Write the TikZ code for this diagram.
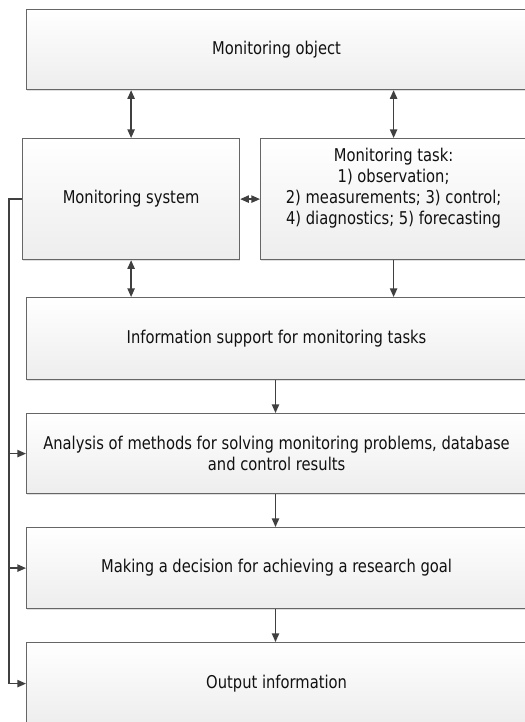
\documentclass[tikz,border=0pt]{standalone}
\usepackage{fontspec}
\setmainfont{DejaVu Sans Condensed}[FakeStretch=0.93]
\usetikzlibrary{arrows.meta,shadows,calc}
\definecolor{linec}{HTML}{404040}
\definecolor{borderc}{HTML}{666666}
\definecolor{textc}{HTML}{111111}
\begin{document}
\begin{tikzpicture}[x=0.75pt,y=-0.75pt,
  box/.style={draw=borderc, line width=0.9pt, top color=white, bottom color=gray!14,
    anchor=north west, inner sep=0pt, align=center, text=textc, font=\fontsize{13.2}{15.8}\selectfont,
    drop shadow={shadow xshift=0pt, shadow yshift=-1pt, opacity=0.25}},
  arr/.style={draw=linec, line width=1pt, -{Triangle[length=6.5pt,width=5.5pt]}},
  darr/.style={draw=linec, line width=1pt, {Triangle[length=6.5pt,width=5.5pt]}-{Triangle[length=6.5pt,width=5.5pt]}}]
\useasboundingbox (0,0) rectangle (525,722);
\clip (0,0) rectangle (525,722);
\fill[white] (0,0) rectangle (525,722);
\node[box, minimum width=500*0.75pt, minimum height=80*0.75pt] (obj) at (26,9) {Monitoring object};
\node[box, minimum width=217*0.75pt, minimum height=121*0.75pt] (sys) at (22,138) {Monitoring system};
\node[box, minimum width=266*0.75pt, minimum height=121*0.75pt] (task) at (260,138) {Monitoring task:\\1) observation;\\2) measurements; 3) control;\\4) diagnostics; 5) forecasting\\[3pt]};
\node[box, minimum width=500*0.75pt, minimum height=82*0.75pt] (info) at (26,297) {Information support for monitoring tasks};
\node[box, minimum width=500*0.75pt, minimum height=80*0.75pt] (ana) at (26,413) {Analysis of methods for solving monitoring problems, database\\and control results};
\node[box, minimum width=500*0.75pt, minimum height=81*0.75pt] (dec) at (26,527) {Making a decision for achieving a research goal};
\node[box, minimum width=500*0.75pt, minimum height=82*0.75pt] (out) at (26,642) {Output information};
\coordinate (L) at (9,0);
\coordinate (X) at (275.5,0);
\draw[darr] (sys.north) -- (sys.north |- obj.south);
\draw[darr] (task.north) -- (task.north |- obj.south);
\draw[darr] (sys.east) -- (task.west);
\draw[darr] (sys.south) -- (sys.south |- info.north);
\draw[arr] (task.south) -- (task.south |- info.north);
\draw[arr] (X |- info.south) -- (X |- ana.north);
\draw[arr] (X |- ana.south) -- (X |- dec.north);
\draw[arr] (X |- dec.south) -- (X |- out.north);
\draw[arr] (sys.west) -| (L |- out.west) -- (out.west);
\draw[arr] (L |- ana.west) -- (ana.west);
\draw[arr] (L |- dec.west) -- (dec.west);
\end{tikzpicture}
\end{document}
